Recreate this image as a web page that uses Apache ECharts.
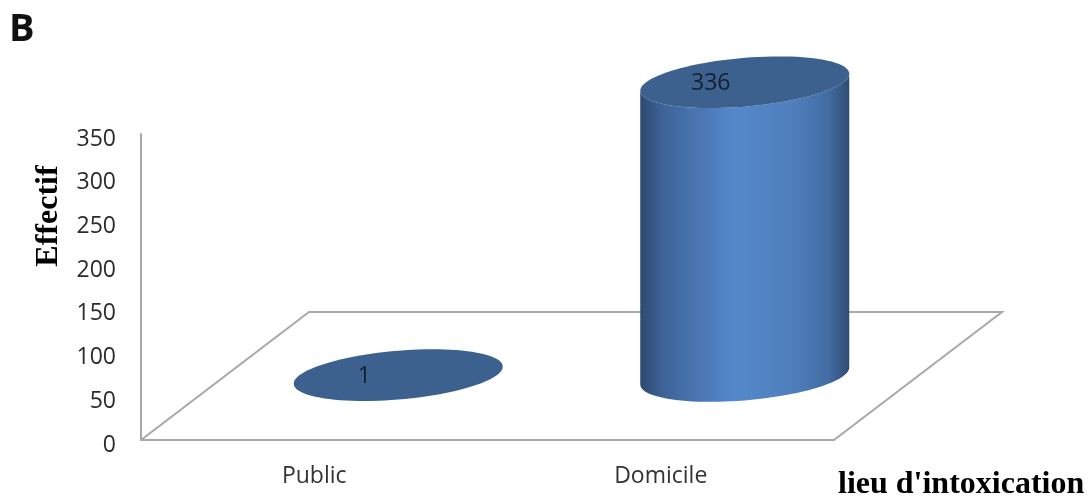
<!DOCTYPE html>
<html>
<head>
<meta charset="utf-8">
<style>html,body{margin:0;padding:0;background:#fff}#c{width:1089px;height:497px}</style>
<script src="https://cdn.jsdelivr.net/npm/echarts@6/dist/echarts.min.js"></script>
</head>
<body>
<div id="c"></div>
<script>
var categories = ['Public', 'Domicile'];
var values = [1, 336];
var yTicks = [0, 50, 100, 150, 200, 250, 300, 350];
var panelLabel = 'B';
var yTitle = 'Effectif';
var xTitle = "lieu d'intoxication";

// Oblique projection of the chart's floor
var depthX = 168, depthY = 128;
var rx = 104.5, ry = 24.4, shear = 8.5, labelShift = -34, SAMPLES = 96;

function ell(cx, cy, t) {
  return [cx + rx * Math.cos(t), cy + ry * Math.sin(t) - shear * Math.cos(t)];
}
function ellipsePoints(cx, cy) {
  var p = [];
  for (var i = 0; i < SAMPLES; i++) p.push(ell(cx, cy, i / SAMPLES * 2 * Math.PI));
  return p;
}
function bodyPoints(cx, cyTop, cyBase) {
  var p = [], i;
  for (i = 0; i <= SAMPLES / 2; i++) p.push(ell(cx, cyBase, i / (SAMPLES / 2) * Math.PI));
  for (i = SAMPLES / 2; i >= 0; i--) p.push(ell(cx, cyTop, i / (SAMPLES / 2) * Math.PI));
  return p;
}

var chart = echarts.init(document.getElementById('c'), null, {renderer: 'canvas'});
chart.setOption({
  animation: false,
  backgroundColor: '#ffffff',
  grid: {left: 141, top: 134, width: 693, height: 306, containLabel: false},
  xAxis: {
    type: 'category', data: categories,
    axisLine: {show: true, lineStyle: {color: '#a8a8a8', width: 2}},
    axisTick: {show: false},
    axisLabel: {color: '#333333', fontFamily: 'Open Sans', fontSize: 23, margin: 25}
  },
  yAxis: {
    type: 'value', min: yTicks[0], max: yTicks[yTicks.length - 1], interval: 50,
    axisLine: {show: true, lineStyle: {color: '#a8a8a8', width: 2}},
    axisTick: {show: false},
    splitLine: {show: false},
    axisLabel: {color: '#2b2b2b', fontFamily: 'Open Sans', fontSize: 23, margin: 25, verticalAlign: 'top', lineHeight: 10}
  },
  series: [
    {
      type: 'custom', z: 1, silent: true, data: [[0, 0]],
      renderItem: function (params, api) {
        var g = params.coordSys, b = g.y + g.height;
        return {
          type: 'polyline',
          shape: {points: [[g.x, b], [g.x + depthX, b - depthY], [g.x + g.width + depthX, b - depthY], [g.x + g.width, b]]},
          style: {stroke: '#a8a8a8', lineWidth: 2, fill: null}
        };
      }
    },
    {
      type: 'custom', z: 3, silent: true,
      data: values.map(function (v, i) { return [i, v]; }),
      encode: {x: 0, y: 1},
      renderItem: function (params, api) {
        var top = api.coord([api.value(0), api.value(1)]);
        var base = api.coord([api.value(0), 0]);
        var cx = top[0] + depthX / 2, cyTop = top[1] - depthY / 2, cyBase = base[1] - depthY / 2;
        var children = [];
        if (cyBase - cyTop > 2) {
          children.push({
            type: 'polygon',
            shape: {points: bodyPoints(cx, cyTop, cyBase)},
            style: {fill: new echarts.graphic.LinearGradient(0, 0, 1, 0, [
              {offset: 0, color: '#2d4a70'},
              {offset: 0.12, color: '#3f659a'},
              {offset: 0.45, color: '#5588cb'},
              {offset: 0.72, color: '#4f7fbc'},
              {offset: 0.9, color: '#436da3'},
              {offset: 1, color: '#2e4b72'}
            ])}
          });
        }
        children.push({
          type: 'polygon',
          shape: {points: ellipsePoints(cx, cyTop)},
          style: {fill: '#3c618f'}
        });
        children.push({
          type: 'text',
          style: {
            text: String(api.value(1)), x: cx + labelShift, y: cyTop + 1,
            align: 'center', verticalAlign: 'middle',
            font: '23px "Open Sans"', fill: '#14202e'
          }
        });
        return {type: 'group', children: children};
      }
    }
  ],
  graphic: [
    {type: 'text', left: 9, top: 11, style: {text: panelLabel, font: 'bold 38px "Open Sans"', fill: '#111111'}},
    {type: 'text', x: 49, y: 216, rotation: Math.PI / 2, style: {text: yTitle, align: 'center', verticalAlign: 'middle', font: 'bold 32px "Liberation Serif"', fill: '#000000'}},
    {type: 'text', x: 838, y: 485, style: {text: xTitle, align: 'left', verticalAlign: 'middle', font: 'bold 32px "Liberation Serif"', fill: '#000000'}}
  ]
});
</script>
</body>
</html>
